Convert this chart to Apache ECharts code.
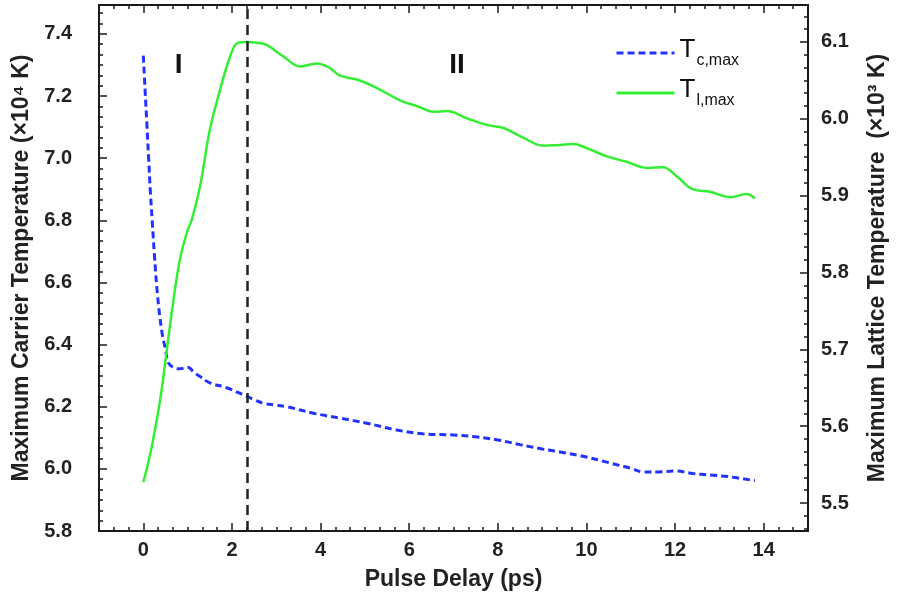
<!DOCTYPE html>
<html>
<head>
<meta charset="utf-8">
<script src="https://cdn.jsdelivr.net/npm/echarts@6/dist/echarts.min.js"></script>
<style>html,body{margin:0;padding:0;background:#fff}#c{width:897px;height:605px}</style>
</head>
<body>
<div id="c"></div>
<script>
// ---- data ----
const carrierX = [0, 0.04, 0.08, 0.12, 0.16, 0.2, 0.25, 0.32, 0.42, 0.5, 0.57, 0.7, 0.82, 1.0, 1.15, 1.28, 1.5, 1.88, 2.26, 2.48, 2.71, 3.0, 3.24, 3.84, 4.44, 5.04, 5.72, 6.3, 7.0, 7.5, 8.0, 8.5, 9.0, 9.5, 10.0, 10.5, 11.0, 11.3, 11.6, 12.0, 12.4, 12.8, 13.2, 13.8];
const carrierY = [7.33, 7.22, 7.11, 7.00, 6.89, 6.80, 6.69, 6.56, 6.44, 6.385, 6.34, 6.325, 6.322, 6.327, 6.31, 6.297, 6.277, 6.261, 6.238, 6.224, 6.211, 6.205, 6.20, 6.179, 6.163, 6.147, 6.125, 6.113, 6.109, 6.103, 6.093, 6.078, 6.064, 6.052, 6.038, 6.02, 6.002, 5.99, 5.99, 5.993, 5.985, 5.98, 5.975, 5.962];
const latticeX = [0, 0.19, 0.38, 0.53, 0.68, 0.83, 1.0, 1.09, 1.28, 1.5, 1.73, 1.96, 2.14, 2.35, 2.56, 2.78, 3.16, 3.54, 3.91, 4.21, 4.44, 4.82, 5.27, 5.79, 6.2, 6.55, 6.85, 7.3, 7.75, 8.13, 8.58, 9.03, 9.4, 9.7, 10.0, 10.46, 10.91, 11.36, 11.73, 12.04, 12.41, 12.79, 13.24, 13.62, 13.8];
const latticeY = [5.527, 5.573, 5.634, 5.699, 5.764, 5.818, 5.855, 5.868, 5.912, 5.985, 6.037, 6.081, 6.099, 6.100, 6.099, 6.096, 6.081, 6.068, 6.072, 6.066, 6.056, 6.051, 6.040, 6.024, 6.016, 6.009, 6.010, 6.0006, 5.992, 5.988, 5.975, 5.965, 5.966, 5.967, 5.962, 5.951, 5.944, 5.936, 5.937, 5.925, 5.908, 5.905, 5.898, 5.902, 5.896];
const dividerX = 2.34;
const xMajorTicks = [0, 2, 4, 6, 8, 10, 12, 14];
const leftMajorTicks = [5.8, 6.0, 6.2, 6.4, 6.6, 6.8, 7.0, 7.2, 7.4];
const rightMajorTicks = [5.5, 5.6, 5.7, 5.8, 5.9, 6.0, 6.1];
const regionLabels = [{text: 'I', x: 0.8, y: 7.30}, {text: 'II', x: 7.08, y: 7.30}];
const seriesNames = ['Tc', 'Tl'];

// ---- helpers ----
function minors(start, end, step, n) {
  const out = [];
  for (let v = start; v <= end + 1e-9; v += step) {
    for (let k = 1; k < n; k++) out.push(+(v + k * step / n).toFixed(5));
  }
  return out;
}
const xMinor = minors(-2, 15, 2, 6).filter(v => v > -1 && v < 15);
const leftMinor = minors(5.8, 7.6, 0.2, 6).filter(v => v > 5.8 && v < 7.493);
const rightMinor = minors(5.4, 6.2, 0.1, 6).filter(v => v > 5.4636 && v < 6.148);

const black = '#1a1a1a';
const FF = 'Liberation Sans, Arial, sans-serif';
const tickFont = {fontFamily: FF, fontWeight: 'bold', fontSize: 20, color: '#222'};
const nameFont = {fontFamily: FF, fontWeight: 'bold', fontSize: 23, color: '#222'};

function axisBase(extra) {
  return Object.assign({
    type: 'value', gridIndex: 0,
    splitLine: {show: false},
    axisLine: {show: false, onZero: false},
    axisLabel: {show: false},
    axisTick: {show: true, inside: true}
  }, extra);
}
const majorTick = (vals) => ({show: true, inside: true, length: 8, customValues: vals, lineStyle: {color: black, width: 1.5}});
const minorTick = (vals) => ({show: true, inside: true, length: 4, customValues: vals, lineStyle: {color: black, width: 1.5}});
const frameLine = {show: true, onZero: false, lineStyle: {color: black, width: 2}};

const xAxis = [
  axisBase({position: 'bottom', min: -1, max: 15, axisLine: frameLine, axisTick: majorTick(xMajorTicks),
    axisLabel: Object.assign({show: true, margin: 9, customValues: xMajorTicks}, tickFont),
    name: 'Pulse Delay (ps)', nameLocation: 'middle', nameGap: 37, nameTextStyle: nameFont}),
  axisBase({position: 'bottom', min: -1, max: 15, axisTick: minorTick(xMinor)}),
  axisBase({position: 'top', min: -1, max: 15, axisLine: frameLine, axisTick: majorTick(xMajorTicks)}),
  axisBase({position: 'top', min: -1, max: 15, axisTick: minorTick(xMinor)})
];

const yAxis = [
  axisBase({position: 'left', min: 5.8, max: 7.493, axisLine: frameLine, axisTick: majorTick(leftMajorTicks),
    axisLabel: Object.assign({show: true, margin: 27, customValues: leftMajorTicks, formatter: v => v.toFixed(1)}, tickFont),
    name: 'Maximum Carrier Temperature (\u00d710\u2074 K)', nameLocation: 'middle', nameGap: 65, nameTextStyle: nameFont}),
  axisBase({position: 'left', min: 5.8, max: 7.493, axisTick: minorTick(leftMinor)}),
  axisBase({position: 'right', min: 5.4636, max: 6.148, axisLine: frameLine, axisTick: majorTick(rightMajorTicks),
    axisLabel: Object.assign({show: true, margin: 13, customValues: rightMajorTicks, formatter: v => v.toFixed(1)}, tickFont),
    name: 'Maximum Lattice Temperature  (\u00d710\u00b3 K)', nameLocation: 'middle', nameGap: 58, nameTextStyle: nameFont}),
  axisBase({position: 'right', min: 5.4636, max: 6.148, axisTick: minorTick(rightMinor)})
];

const carrierData = carrierX.map((x, i) => [x, carrierY[i]]);
const latticeData = latticeX.map((x, i) => [x, latticeY[i]]);

const option = {
  animation: false,
  backgroundColor: '#fff',
  grid: {left: 99, right: 88, top: 5, bottom: 74, containLabel: false},
  xAxis: xAxis,
  yAxis: yAxis,
  legend: {
    orient: 'vertical', left: 610, top: 28, itemWidth: 58, itemHeight: 14, itemGap: 4,
    data: seriesNames,
    itemStyle: {opacity: 0},
    lineStyle: {width: 3},
    formatter: function (name) {
      return name === 'Tc' ? '{t|T}{s|c,max}' : '{t|T}{s|l,max}';
    },
    textStyle: {
      rich: {
        t: {fontFamily: FF, fontSize: 26, color: '#111', lineHeight: 32, verticalAlign: 'top', padding: [0, 0, 0, 0]},
        s: {fontFamily: FF, fontSize: 16, color: '#111', lineHeight: 18, verticalAlign: 'bottom', padding: [20, 0, 0, 1]}
      }
    }
  },
  series: [
    {
      name: 'Tc', type: 'line', xAxisIndex: 0, yAxisIndex: 0, data: carrierData,
      showSymbol: false, symbol: 'none', smooth: 0.4,
      lineStyle: {color: '#2233ff', width: 3, type: [7, 4]},
      itemStyle: {color: '#2233ff'},
      markLine: {
        silent: true, symbol: 'none', label: {show: false},
        lineStyle: {color: '#222', width: 2.5, type: [10, 6]},
        data: [{xAxis: dividerX}]
      },
      markPoint: {
        silent: true, symbolSize: 0,
        label: {show: true, position: 'inside', formatter: p => p.name, fontFamily: FF, fontWeight: 'bold', fontSize: 28, color: '#111'},
        data: regionLabels.map(r => ({name: r.text, coord: [r.x, r.y]}))
      }
    },
    {
      name: 'Tl', type: 'line', xAxisIndex: 0, yAxisIndex: 2, data: latticeData,
      showSymbol: false, symbol: 'none', smooth: 0.4,
      lineStyle: {color: '#33ee33', width: 2.5},
      itemStyle: {color: '#33ee33'}
    }
  ]
};

const chart = echarts.init(document.getElementById('c'), null, {renderer: 'canvas'});
chart.setOption(option);
</script>
</body>
</html>
